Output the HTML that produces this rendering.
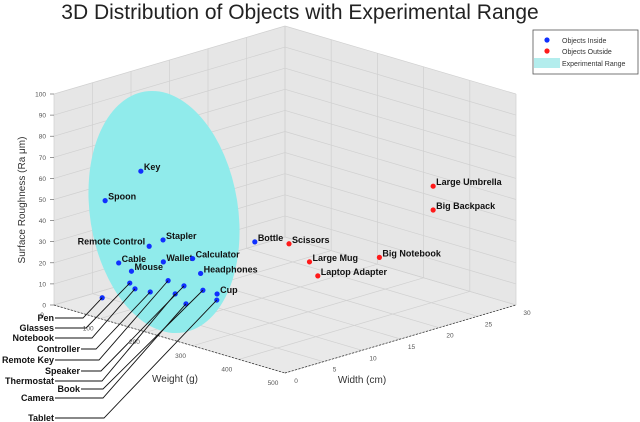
<!DOCTYPE html>
<html><head><meta charset="utf-8"><style>
html,body{margin:0;padding:0;background:#fff;}
svg{display:block;font-family:"Liberation Sans",sans-serif;}
</style></head><body>
<svg id="chart" width="640" height="422" viewBox="0 0 640 422">
<text x="300" y="19" text-anchor="middle" font-size="21" fill="#222">3D Distribution of Objects with Experimental Range</text>
<g id="panes"></g>
<g id="grid"></g>
<ellipse cx="164" cy="212" rx="74" ry="122" transform="rotate(-9 164 212)" fill="#90ebeb"/>
<g id="axes"></g>
<g id="marks"></g>
<g>
<rect x="533" y="30" width="105" height="44" fill="#fff" stroke="#555" stroke-width="0.8"/>
<circle cx="547" cy="40" r="2.6" fill="#1030ff"/>
<text x="562" y="43" font-size="7" fill="#333">Objects Inside</text>
<circle cx="547" cy="51" r="2.6" fill="#ff1a1a"/>
<text x="562" y="54" font-size="7" fill="#333">Objects Outside</text>
<rect x="534" y="58" width="26" height="10" fill="#b3eded"/>
<text x="562" y="66" font-size="7" fill="#333">Experimental Range</text>
</g>
</svg>
<script>
const names = ["Key","Spoon","Remote Control","Stapler","Cable","Mouse","Wallet","Calculator","Headphones","Bottle","Scissors","Large Mug","Laptop Adapter","Big Notebook","Large Umbrella","Big Backpack","Pen","Glasses","Notebook","Controller","Remote Key","Thermostat","Speaker","Camera","Book","Cup","Tablet"];
const weights = [83,44,81,96,55,76,115,150,159,218,262,273,256,371,439,449,41,79,67,95,127,129,148,154,169,198,189];
const widths = [6.3,4,7.5,8.4,5.1,5.5,7.3,9,9.5,13,14.8,16.8,18.9,20,22.9,22.3,3.8,5.1,6.5,6.8,7.2,8,8,7.9,9.2,9.3,9.8];
const roughness = [62,48,25,28,18,15,20,22,15,30,30,20,10,25,60,50,2,10,5,5,12,5,10,2,8,8,4];
const inside = [1,1,1,1,1,1,1,1,1,1,0,0,0,0,0,0,1,1,1,1,1,1,1,1,1,1,1];
const zTicks = [0,10,20,30,40,50,60,70,80,90,100];
const wTicks = [0,100,200,300,400,500];
const widthTicks = [0,5,10,15,20,25,30];
const leaderNames = ["Pen","Glasses","Notebook","Controller","Remote Key","Speaker","Thermostat","Book","Camera","Tablet"];
const leaderY = [318,328,338,349,360,371,381,389,398,418];

const NS="http://www.w3.org/2000/svg";
function P(w,W,z){return [54+231*w/500+231*W/30, 305+68*w/500-68*W/30-2.11*z];}
function mk(tag,attrs,parent){const e=document.createElementNS(NS,tag);for(const k in attrs)e.setAttribute(k,attrs[k]);parent.appendChild(e);return e;}
const panes=document.getElementById('panes'),grid=document.getElementById('grid'),axes=document.getElementById('axes'),marks=document.getElementById('marks');
function poly(pts){return pts.map(p=>p.join(',')).join(' ');}
let e;
e=mk('polygon',{points:poly([P(0,0,100),P(0,30,100),P(0,30,0),P(0,0,0)]),fill:'#e6e6e6'},panes);


e=mk('polygon',{points:poly([P(0,30,100),P(500,30,100),P(500,30,0),P(0,30,0)]),fill:'#e6e6e6'},panes);


e=mk('polygon',{points:poly([P(0,0,0),P(0,30,0),P(500,30,0),P(500,0,0)]),fill:'#e9e9e9'},panes);


function line(a,b,st,par,name){const l=mk('line',{x1:a[0],y1:a[1],x2:b[0],y2:b[1],stroke:st.c,'stroke-width':st.w,'stroke-dasharray':st.d||'none'},par);return l;}
const gs={c:'#d0d0d0',w:0.7};
zTicks.forEach(z=>{line(P(0,0,z),P(0,30,z),gs,grid,'z-gridline');line(P(0,30,z),P(500,30,z),gs,grid,'z-gridline');});
widthTicks.forEach(W=>{line(P(0,W,0),P(0,W,100),gs,grid,'width-gridline');line(P(0,W,0),P(500,W,0),gs,grid,'width-gridline');});
wTicks.forEach(w=>{line(P(w,30,0),P(w,30,100),gs,grid,'weight-gridline');line(P(w,0,0),P(w,30,0),gs,grid,'weight-gridline');});
const ax={c:'#222',w:0.7,d:'2,1.5'};
line(P(0,0,0),P(500,0,0),ax,axes,'weight-axis-line');
line(P(500,0,0),P(500,30,0),ax,axes,'width-axis-line');
function txt(x,y,s,attrs,par,name){const t=mk('text',Object.assign({x:x,y:y},attrs),par);t.textContent=s;return t;}
zTicks.forEach(z=>{const p=P(0,0,z);line([p[0]-4,p[1]],[p[0],p[1]],{c:'#555',w:0.6},axes,'z-tick');txt(p[0]-8,p[1]+2.5,String(z),{'font-size':6.5,fill:'#555','text-anchor':'end'},axes,'z-tick-label');});
wTicks.forEach(w=>{const p=P(w,0,0);txt(p[0]-12,p[1]+12,String(w),{'font-size':6.5,fill:'#555','text-anchor':'middle'},axes,'weight-tick-label');});
widthTicks.forEach(W=>{const p=P(500,W,0);txt(p[0]+11,p[1]+10,String(W),{'font-size':6.5,fill:'#555','text-anchor':'middle'},axes,'width-tick-label');});
txt(175,382,'Weight (g)',{'font-size':10,fill:'#333','text-anchor':'middle'},axes,'weight-axis-title');
txt(362,383,'Width (cm)',{'font-size':10,fill:'#333','text-anchor':'middle'},axes,'width-axis-title');
txt(0,0,'Surface Roughness (Ra μm)',{'font-size':10,fill:'#333','text-anchor':'middle',transform:'translate(25,200) rotate(-90)'},axes,'z-axis-title');

const elbowX=[83,86,92,96,99,101,102,103,103,104];
const labelEnd=[54,54,54,80,54,80,54,80,54,54];
names.forEach((n,i)=>{
  const p=P(weights[i],widths[i],roughness[i]);
  const c=mk('circle',{cx:p[0],cy:p[1],r:2.6,fill:inside[i]?'#1030ff':'#ff1a1a'},marks);
  
  
  const li=leaderNames.indexOf(n);
  if(n==='Remote Control'){
    txt(p[0]-4,p[1]-2,n,{'font-size':9,'font-weight':'bold',fill:'#111','text-anchor':'end'},marks,'point-label');
  } else if(li<0){
    txt(p[0]+3,p[1]-1,n,{'font-size':9,'font-weight':'bold',fill:'#111'},marks,'point-label');
  } else {
    const y=leaderY[li];
    const pl=mk('polyline',{points:`${p[0]},${p[1]} ${elbowX[li]},${y} ${labelEnd[li]+1},${y}`,fill:'none',stroke:'#111','stroke-width':0.9},marks);
    
    
    txt(labelEnd[li],y+3,n,{'font-size':9,'font-weight':'bold',fill:'#111','text-anchor':'end'},marks,'point-label');
  }
});
</script>
</body></html>
